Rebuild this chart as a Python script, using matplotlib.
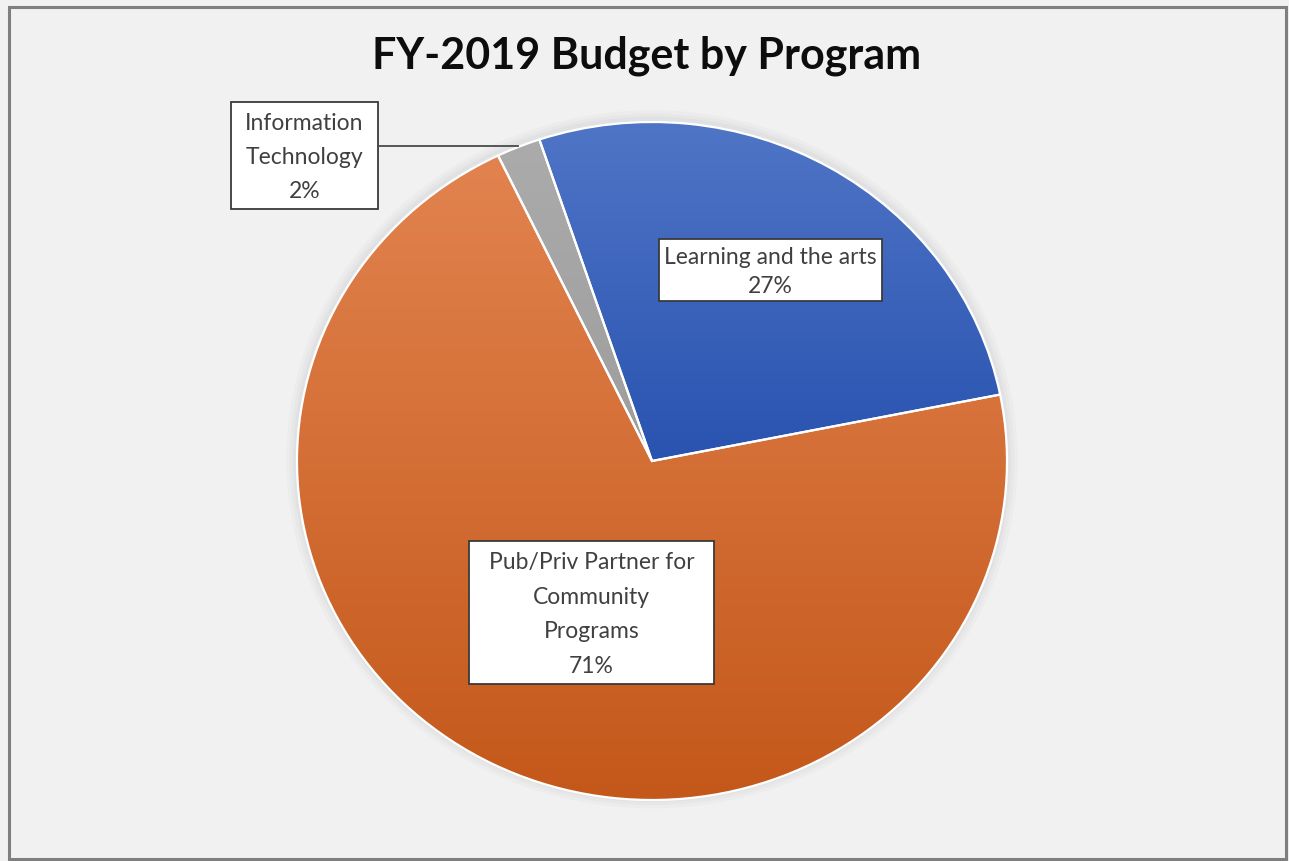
import numpy as np
import matplotlib
matplotlib.use("Agg")
import matplotlib.pyplot as plt
from matplotlib.patches import Rectangle, Ellipse
from matplotlib.colors import LinearSegmentedColormap

# FY-2019 budget split, clockwise from the top-left
programs = ["Learning and the arts",
            "Pub/Priv Partner for\nCommunity\nPrograms",
            "Information\nTechnology"]
shares = [27, 71, 2]
top_colors = ["#4f75c6", "#e2834f", "#ababab"]
bottom_colors = ["#2953b0", "#c4581a", "#9d9d9d"]

W, H = 1289, 862
BG = "#f1f1f1"
FONT = ["Lato", "DejaVu Sans"]

fig = plt.figure(figsize=(W / 100, H / 100), dpi=100)
fig.patch.set_facecolor(BG)

# pie axes stretched over the (slightly wide) ellipse
cx, cy, rx, ry = 652, 462, 355, 339
ax = fig.add_axes([(cx - rx) / W, (H - cy - ry) / H, 2 * rx / W, 2 * ry / H])
ax.set_facecolor("none")

# soft shadow around the rim
for k, a in [(0.030, 0.05), (0.020, 0.06), (0.011, 0.08)]:
    ax.add_patch(Ellipse((0, 0.005), 2 * (1 + k), 2 * (1 + k), color="#9aa0a8",
                         alpha=a, lw=0, zorder=0, clip_on=False))

wedges, _ = ax.pie(shares, startangle=108.5, counterclock=False, radius=1,
                   wedgeprops=dict(edgecolor="white", linewidth=1.6))

# vertical gradient fill per slice, spanning each slice's own height
grad = np.linspace(1, 0, 256).reshape(-1, 1) * np.ones((1, 4))
for w, c0, c1 in zip(wedges, top_colors, bottom_colors):
    bb = w.get_path().get_extents()
    cmap = LinearSegmentedColormap.from_list("g", [c1, c0])
    im = ax.imshow(grad, extent=(bb.x0, bb.x1, bb.y0, bb.y1), cmap=cmap,
                   aspect="auto", interpolation="bilinear", zorder=2)
    im.set_clip_path(w)
    w.set_facecolor("none")
    w.set_zorder(3)

ax.set_aspect("auto")
ax.set_xlim(-1, 1)
ax.set_ylim(-1, 1)
ax.axis("off")

# overlay in pixel coordinates for title, labels and frame
ov = fig.add_axes([0, 0, 1, 1], zorder=5)
ov.set_xlim(0, W)
ov.set_ylim(H, 0)
ov.axis("off")
ov.set_facecolor("none")

ov.add_patch(Rectangle((9, 8), 1277, 852, fill=False, ec="#7f7f7f", lw=2.2))

ov.text(647, 56, "FY-2019 Budget by Program", ha="center", va="center",
        fontsize=31, fontweight="bold", color="#0d0d0d", family=FONT)

boxes = [(659, 240, 882, 302), (469, 542, 714, 685), (231, 103, 378, 210)]
spacing = [1.45, 1.8, 1.75]
for name, v, (x0, y0, x1, y1), ls in zip(programs, shares, boxes, spacing):
    ov.add_patch(Rectangle((x0, y0), x1 - x0, y1 - y0, fc="white", ec="#3a3a3a", lw=1.3))
    ov.text((x0 + x1) / 2, (y0 + y1) / 2 + 1, f"{name}\n{v}%", ha="center", va="center",
            fontsize=16.5, color="#404040", family=FONT, linespacing=ls)

# leader line to the thin IT slice
ov.plot([378, 518], [147, 147], color="#4a4a4a", lw=1.3)

fig.savefig("out.png", dpi=100, facecolor=BG)
